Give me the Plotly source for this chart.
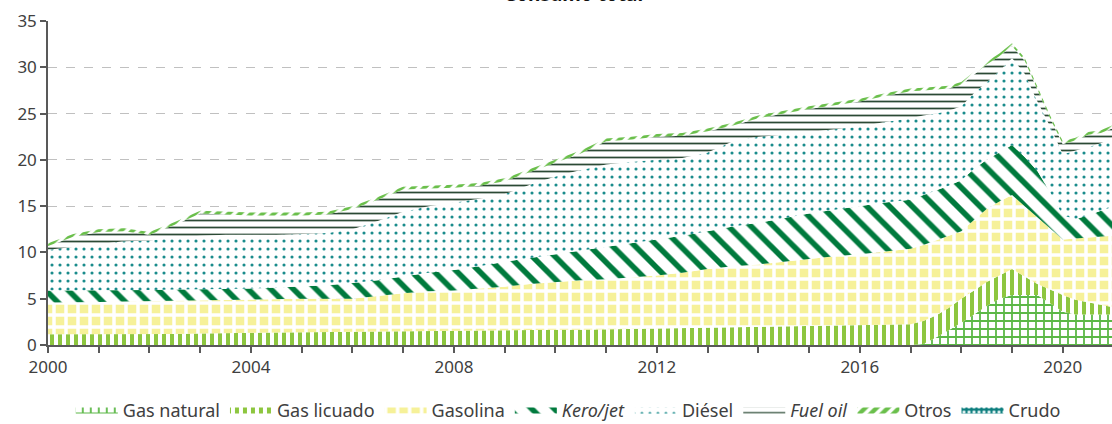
import plotly.graph_objects as go

anio = [2000, 2000.5, 2001, 2001.5, 2002, 2002.5, 2003, 2003.5, 2004, 2004.5,
        2005, 2005.5, 2006, 2006.5, 2007, 2007.5, 2008, 2008.5, 2009, 2009.5,
        2010, 2010.5, 2011, 2011.5, 2012, 2012.5, 2013, 2013.5, 2014, 2014.5,
        2015, 2015.5, 2016, 2016.5,
        2017, 2017.25, 2017.5, 2017.75, 2018, 2018.25, 2018.5, 2018.75,
        2019, 2019.25, 2019.5, 2019.75, 2020, 2020.25, 2020.5, 2020.75, 2020.97]

# Cumulative levels (top edge of each stacked band)
tope_gas_natural = [0.0] * 34 + [0.0, 0.1, 0.8, 1.6, 2.4, 3.3, 4.2, 5.0, 5.4, 5.4, 5.4, 4.5, 3.6, 3.3, 3.3, 3.3, 3.3]
tope_gas_licuado = [1.15, 1.15, 1.15, 1.15, 1.2, 1.2, 1.25, 1.28, 1.3, 1.35, 1.4, 1.4, 1.45, 1.45, 1.5, 1.5,
                    1.55, 1.55, 1.6, 1.6, 1.65, 1.65, 1.7, 1.75, 1.8, 1.85, 1.9, 1.9, 1.95, 2.0, 2.05, 2.1,
                    2.15, 2.2,
                    2.25, 2.6, 3.2, 4.0, 5.0, 5.9, 6.8, 7.5, 8.2, 7.4, 6.6, 6.0, 5.4, 4.9, 4.6, 4.3, 4.1]
tope_gasolina = [4.6, 4.6, 4.65, 4.7, 4.75, 4.8, 4.8, 4.85, 4.9, 4.95, 5.0, 5.0, 5.0, 5.3, 5.6, 5.8,
                 5.9, 6.1, 6.3, 6.6, 6.8, 7.0, 7.1, 7.3, 7.5, 7.8, 8.2, 8.5, 8.7, 9.0, 9.3, 9.6,
                 9.8, 10.1,
                 10.4, 10.8, 11.3, 11.8, 12.3, 13.5, 14.7, 15.5, 16.2, 15.0, 13.8, 12.6, 11.4, 11.5, 11.6, 11.7, 11.8]
tope_kero_jet = [5.9, 5.9, 5.9, 5.9, 5.95, 6.0, 6.0, 6.05, 6.1, 6.2, 6.3, 6.45, 6.7, 7.0, 7.4, 7.8,
                 8.1, 8.5, 9.0, 9.4, 9.8, 10.2, 10.6, 11.0, 11.4, 11.8, 12.3, 12.8, 13.2, 13.7, 14.2, 14.6,
                 15.0, 15.4,
                 15.7, 16.2, 16.7, 17.2, 17.8, 19.0, 20.0, 20.8, 21.6, 20.3, 18.8, 16.5, 14.0, 13.6, 14.0, 14.5, 14.9]
tope_diesel = [10.3, 10.6, 10.9, 11.2, 11.3, 11.6, 11.8, 11.9, 11.9, 11.9, 12.0, 12.1, 12.5, 13.4, 14.4, 15.0,
               15.4, 15.8, 16.3, 17.3, 18.2, 18.9, 19.5, 19.8, 20.0, 20.2, 20.8, 22.0, 22.5, 22.7, 23.0, 23.3,
               23.6, 24.1,
               24.5, 24.8, 25.0, 25.3, 25.8, 27.2, 28.4, 29.6, 31.0, 29.3, 26.3, 23.6, 20.6, 21.0, 21.4, 21.8, 22.4]
tope_fuel_oil = [10.7, 11.7, 12.2, 12.3, 11.9, 13.0, 14.2, 14.1, 14.0, 14.0, 14.0, 14.1, 14.7, 15.7, 16.8, 16.9,
                 17.0, 17.2, 17.7, 18.7, 19.7, 20.7, 22.0, 22.2, 22.5, 22.6, 23.1, 23.7, 24.5, 25.0, 25.5, 25.9,
                 26.3, 26.9,
                 27.4, 27.5, 27.6, 27.7, 28.1, 29.2, 30.3, 31.2, 32.3, 30.7, 27.5, 24.5, 21.7, 22.1, 22.7, 22.9, 23.4]
tope_otros = [11.0, 12.0, 12.5, 12.6, 12.2, 13.3, 14.5, 14.4, 14.3, 14.3, 14.3, 14.4, 15.0, 16.0, 17.1, 17.2,
              17.3, 17.5, 18.0, 19.0, 20.0, 21.0, 22.3, 22.5, 22.8, 22.9, 23.4, 24.0, 24.8, 25.3, 25.8, 26.2,
              26.6, 27.2,
              27.7, 27.8, 27.9, 28.0, 28.4, 29.5, 30.6, 31.5, 32.6, 31.0, 27.8, 24.8, 22.0, 22.4, 23.0, 23.2, 23.7]
tope_crudo = tope_otros  # crudo adds nothing visible

series = [
    ("Gas natural", tope_gas_natural, dict(shape="+", fgcolor="#5cb847", bgcolor="white", size=8, solidity=0.4)),
    ("Gas licuado", tope_gas_licuado, dict(shape="|", fgcolor="#8dc63f", bgcolor="white", size=8, solidity=0.5)),
    ("Gasolina", tope_gasolina, dict(shape="+", fgcolor="white", bgcolor="#f6f199", size=12, solidity=0.5)),
    ("<i>Kero/jet</i>", tope_kero_jet, dict(shape="\\", fgcolor="#007a3d", bgcolor="white", size=16, solidity=0.35)),
    ("Diésel", tope_diesel, dict(shape=".", fgcolor="#1a8c8c", bgcolor="white", size=8, solidity=0.12)),
    ("<i>Fuel oil</i>", tope_fuel_oil, dict(shape="-", fgcolor="#2b4a35", bgcolor="white", size=7, solidity=0.25)),
    ("Otros", tope_otros, dict(shape="/", fgcolor="#6abf4b", bgcolor="white", size=8, solidity=0.55)),
    ("Crudo", tope_crudo, dict(shape=".", fgcolor="white", bgcolor="#0e7f7f", size=5, solidity=0.3)),
]

fig = go.Figure()
for i, (nombre, valores, patron) in enumerate(series):
    fig.add_trace(go.Scatter(
        x=anio, y=valores, name=nombre, mode="lines",
        line=dict(width=0, color=patron["fgcolor"] if patron["fgcolor"] != "white" else patron["bgcolor"]),
        fill="tozeroy" if i == 0 else "tonexty",
        fillcolor="rgba(0,0,0,0)",
        fillpattern=dict(fillmode="replace", **patron),
        hoverinfo="skip",
    ))

tick_vals = list(range(2000, 2021))
tick_text = [str(v) if (v - 2000) % 4 == 0 else "" for v in tick_vals]

fig.update_layout(
    width=1112, height=424,
    margin=dict(l=48, r=0, t=21, b=79, autoexpand=False),
    paper_bgcolor="white", plot_bgcolor="white",
    font=dict(family="Noto Sans", size=17, color="#404040"),
    showlegend=True,
    legend=dict(orientation="h", x=0.489, xanchor="center", y=-0.20, yanchor="middle",
                traceorder="normal",
                font=dict(size=18, color="#404040"), itemwidth=42, tracegroupgap=0),
    annotations=[dict(text="<b>Consumo total</b>", x=0.494, xref="paper", xanchor="center",
                      y=1, yref="paper", yanchor="bottom", yshift=12, showarrow=False,
                      font=dict(size=19, color="#111111"))],
    xaxis=dict(range=[2000, 2020.97], tickvals=tick_vals, ticktext=tick_text,
               ticks="outside", ticklen=6, tickcolor="#595959", tickwidth=1.5,
               showline=True, linecolor="#595959", linewidth=1.5,
               showgrid=False, zeroline=False, tickfont=dict(size=17, color="#404040")),
    yaxis=dict(range=[0, 35], dtick=5, ticks="outside", ticklen=6, tickcolor="#595959", tickwidth=1.5,
               showline=True, linecolor="#595959", linewidth=1.5,
               showgrid=True, gridcolor="#c0c0c0", griddash="dash", gridwidth=1,
               zeroline=False, tickfont=dict(size=17, color="#404040")),
)

fig.write_html("out.html", config={"displayModeBar": False},
               post_script="document.body.style.margin='0';document.body.style.overflow='hidden';")
